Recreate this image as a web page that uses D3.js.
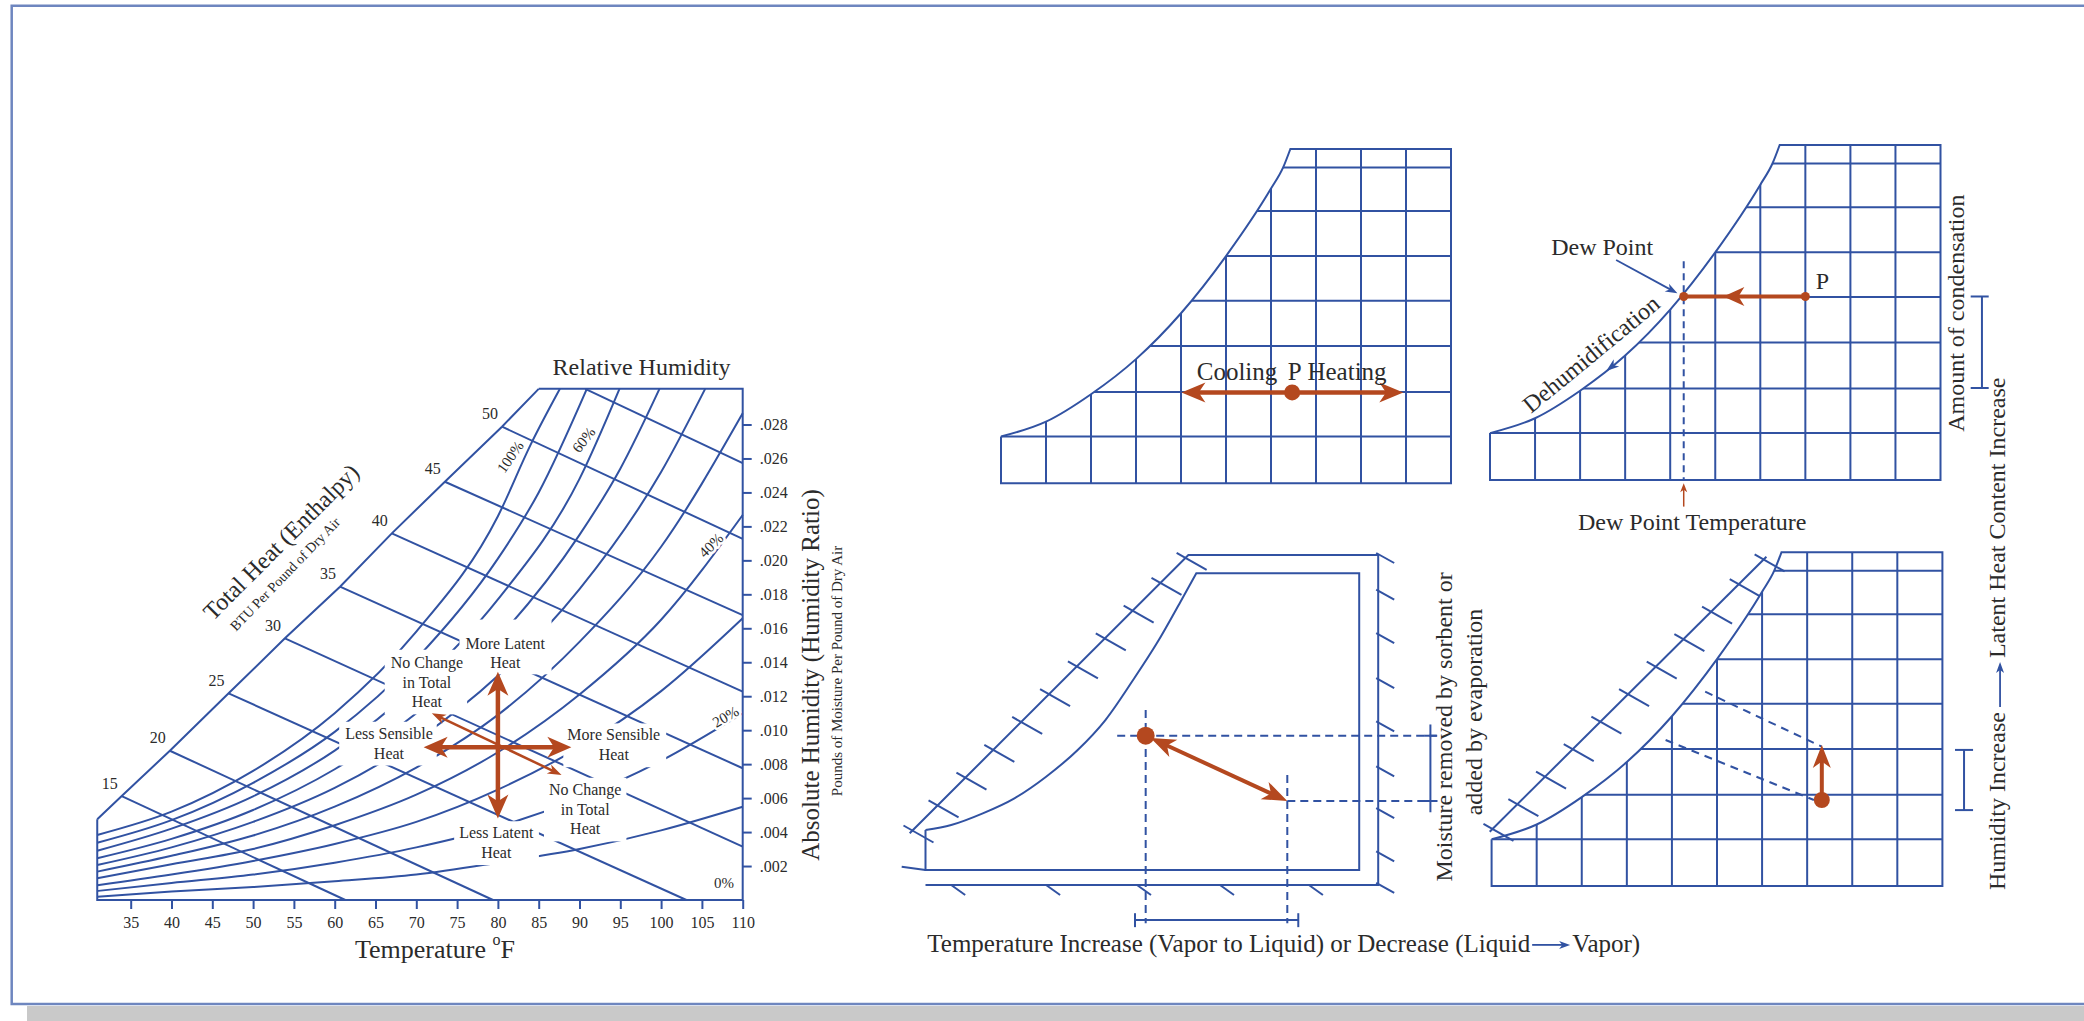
<!DOCTYPE html>
<html>
<head>
<meta charset="utf-8">
<title>Psychrometric Processes</title>
<script src="https://d3js.org/d3.v7.min.js"></script>
<style>
  body { margin: 0; background: #fff; }
  svg { display: block; }
  text { font-family: 'Liberation Serif', 'Times New Roman', serif; fill: #2b2b2b; }
  .halo { paint-order: stroke; stroke: #fff; stroke-width: 5px; stroke-linejoin: round; }
</style>
</head>
<body>
<div id="chart"></div>
<script>
// ---------- psychrometric chart (left) ----------
const tempTicks = [35, 40, 45, 50, 55, 60, 65, 70, 75, 80, 85, 90, 95, 100, 105, 110];
const humidityTicks = [0.002, 0.004, 0.006, 0.008, 0.010, 0.012, 0.014, 0.016, 0.018, 0.020, 0.022, 0.024, 0.026, 0.028];
const tempMin = 30.9;
const humidityTop = 0.0301;

// outer edge carrying the enthalpy scale (temperature F, humidity ratio)
const enthalpyEdge = [[30.9, 0.00475], [33.9, 0.00612], [39.8, 0.00879], [47.0, 0.01217], [53.9, 0.01541],
  [60.65, 0.01845], [67.0, 0.02159], [73.5, 0.02463], [80.5, 0.02787], [85.0, 0.0301]];

const enthalpyLines = [
  { h: 15, from: [33.9, 0.00612], to: [61.3, 0] },
  { h: 20, from: [39.8, 0.00879], to: [79.4, 0] },
  { h: 25, from: [47.0, 0.01217], to: [103.1, 0] },
  { h: 30, from: [53.9, 0.01541], to: [110, 0.00314] },
  { h: 35, from: [60.65, 0.01845], to: [110, 0.00776] },
  { h: 40, from: [67.0, 0.02159], to: [110, 0.01227] },
  { h: 45, from: [73.5, 0.02463], to: [110, 0.01678] },
  { h: 50, from: [80.5, 0.02787], to: [110, 0.02126] },
  { h: 55, from: [90.7, 0.0301], to: [110, 0.02572] }
];

const rhCurves = [
  { rh: 100, pts: [[30.9, .00383], [40, .0052], [50, .0076], [60, .0110], [70, .0158], [80, .0226], [84, .0268], [87.6, .0301]] },
  { rh: 90, pts: [[30.9, .00337], [40, .0047], [50, .0069], [60, .0099], [70, .0142], [80, .0201], [85, .0240], [90.9, .0301]] },
  { rh: 80, pts: [[30.9, .0029], [40, .0042], [50, .0061], [60, .0088], [70, .0126], [80, .0177], [90, .0248], [94.9, .0301]] },
  { rh: 70, pts: [[30.9, .00246], [40, .0036], [50, .0053], [60, .0077], [70, .0110], [80, .0154], [90, .0215], [95, .0254], [99.8, .0301]] },
  { rh: 60, pts: [[30.9, .00206], [40, .0031], [50, .0046], [60, .0066], [70, .0094], [80, .0132], [90, .0183], [100, .0252], [105.4, .0301]] },
  { rh: 50, pts: [[30.9, .00167], [40, .0026], [50, .0038], [60, .0055], [70, .0078], [80, .0109], [90, .0152], [100, .0208], [110, .02866]] },
  { rh: 40, pts: [[30.9, .00128], [40, .0021], [50, .0030], [60, .0044], [70, .0062], [80, .0087], [90, .0121], [100, .0165], [110, .02267]] },
  { rh: 30, pts: [[30.9, .00087], [40, .0015], [50, .0023], [60, .0033], [70, .0046], [80, .0065], [90, .0090], [100, .0123], [110, .01659]] },
  { rh: 20, pts: [[30.9, .00053], [40, .0010], [50, .0015], [60, .0022], [70, .0031], [80, .0043], [90, .0060], [100, .0082], [110, .01099]] },
  { rh: 10, pts: [[30.9, .00019], [40, .0005], [50, .00076], [60, .0011], [70, .0015], [80, .0022], [90, .0030], [100, .0041], [110, .00549]] }
];

const rhLabels = [
  { text: '100%', at: [81.5, 0.0261], angle: -55 },
  { text: '60%', at: [90.5, 0.0271], angle: -52 },
  { text: '40%', at: [106.1, 0.0209], angle: -45 },
  { text: '20%', at: [107.9, 0.0108], angle: -30 },
  { text: '0%', at: [107.7, 0.0010], angle: 0 }
];

// text blocks on the chart, with how far their white backing reaches (top, right, bottom, left)
const effectLabels = [
  { lines: ['More Latent', 'Heat'], at: [80.9, 0.01513], pad: [15, 6, 3, 6] },
  { lines: ['No Change', 'in Total', 'Heat'], at: [71.3, 0.0140], pad: [4, 4, 4, 6] },
  { lines: ['Less Sensible', 'Heat'], at: [66.65, 0.00982], pad: [3, 4, 4, 6] },
  { lines: ['More Sensible', 'Heat'], at: [94.2, 0.00972], pad: [3, 6, 4, 4] },
  { lines: ['No Change', 'in Total', 'Heat'], at: [90.7, 0.00652], pad: [3, 5, 4, 5] },
  { lines: ['Less Latent', 'Heat'], at: [79.8, 0.00396], pad: [3, 5, 4, 5] }
];

const processPoint = [80, 0.009];
const sensibleRange = [70.9, 89.0];
const latentRange = [0.0048, 0.01344];
const totalHeatPath = [[71.9, 0.0110], [87.8, 0.00736]];

// ---------- process sketches (grid units) ----------
const satCurve = [[0, 1.04], [1, 1.37], [2, 1.98], [3, 2.76], [4, 3.78], [5, 5.05], [6, 6.55], [6.27, 7.02], [6.43, 7.43]];
const gridCols = [1, 2, 3, 4, 5, 6, 7, 8, 9];
const gridRows = [1.04, 2.03, 3.05, 4.06, 5.05, 6.05, 7.02];
const gridTop = 7.43;

const heatRow = 2.02, heatSpan = [4.01, 8.94], heatPoint = 6.47;
const coolStart = [7.0, 4.07], dewPoint = [4.3, 4.07], coolHead = 5.18;

const sorbentOuter = [[-0.351, 0.816], [5.842, 7.0], [10.06, 7.0], [10.06, -0.333], [0, -0.333]];
const sorbentInner = [[0, 0.889], [0.571, 1.0], [1.273, 1.259], [1.976, 1.593], [2.68, 2.074], [3.382, 2.667],
  [3.998, 3.333], [4.613, 4.222], [5.14, 5.037], [5.667, 5.963], [6.018, 6.593]];
const sorbentBox = { right: 9.638, top: 6.593 };
const sorbentStart = [4.893, 2.984], sorbentEnd = [8.04, 1.533];
const hatchSteps = [0.01, 0.1, 0.2, 0.3, 0.4, 0.5, 0.6, 0.7, 0.8, 0.9, 0.99];
const sideHatchRows = [7.0, 6.185, 5.222, 4.222, 3.259, 2.259, 1.333, 0.370, -0.333];
const baseHatchCols = [0.571, 2.68, 4.7, 6.544, 8.52];

const evapEdge = [[-0.042, 1.209], [6.096, 7.332]];
const evapStart = [7.325, 1.915], evapEnd = [7.325, 3.14];
const evapGuides = [[[4.738, 4.326], [7.325, 3.102]], [[3.86, 3.251], [7.15, 1.915]]];

const BLUE = '#3152a2', RUST = '#b4481f', FRAME = '#6e86bf';

const svg = d3.select('#chart').append('svg').attr('width', 2084).attr('height', 1021);

// page frame
svg.append('rect').attr('x', 27).attr('y', 1006).attr('width', 2084 - 27).attr('height', 15).attr('fill', '#c9c9c9');
svg.append('path').attr('d', 'M2084,5.7H11.7V1004H2084').attr('fill', 'none').attr('stroke', FRAME).attr('stroke-width', 2.5);

function arrowHead(g, tip, ang, len, wid, color) {
  const c = Math.cos(ang), s = Math.sin(ang);
  const bx = tip[0] - c * len, by = tip[1] - s * len;
  const nx = -s * wid / 2, ny = c * wid / 2;
  const mx = tip[0] - c * len * 0.72, my = tip[1] - s * len * 0.72;
  g.append('path')
    .attr('d', `M${tip[0]},${tip[1]}L${bx + nx},${by + ny}L${mx},${my}L${bx - nx},${by - ny}Z`)
    .attr('fill', color);
}

function arrowLine(g, a, b, o) {
  const ang = Math.atan2(b[1] - a[1], b[0] - a[0]);
  const c = Math.cos(ang), s = Math.sin(ang);
  const cutB = o.len * 0.6, cutA = o.both ? o.len * 0.6 : 0;
  g.append('line')
    .attr('x1', a[0] + c * cutA).attr('y1', a[1] + s * cutA)
    .attr('x2', b[0] - c * cutB).attr('y2', b[1] - s * cutB)
    .attr('stroke', o.color).attr('stroke-width', o.width);
  arrowHead(g, b, ang, o.len, o.wid, o.color);
  if (o.both) arrowHead(g, a, ang + Math.PI, o.len, o.wid, o.color);
}

// ---------- left chart ----------
const x = d3.scaleLinear().domain([35, 110]).range([130.7, 742.7]);
const y = d3.scaleLinear().domain([0, 0.028]).range([900, 424.5]);
const straight = d3.line().x(d => x(d[0])).y(d => y(d[1]));
const smooth = d3.line().x(d => x(d[0])).y(d => y(d[1])).curve(d3.curveMonotoneX);

const psy = svg.append('g');
const net = psy.append('g').attr('fill', 'none').attr('stroke', BLUE).attr('stroke-width', 2);
net.selectAll('path.rh').data(rhCurves).join('path').attr('class', 'rh').attr('d', d => smooth(d.pts));
net.selectAll('path.h').data(enthalpyLines).join('path').attr('class', 'h').attr('d', d => straight([d.from, d.to]));
net.append('path').attr('d', straight(enthalpyEdge));
net.append('path').attr('d', straight([[tempMin, enthalpyEdge[0][1]], [tempMin, 0], [110, 0], [110, humidityTop], [85, humidityTop]]));

const xAxis = psy.append('g').attr('transform', `translate(0,${y(0)})`)
  .call(d3.axisBottom(x).tickValues(tempTicks).tickSize(9).tickPadding(8));
const yAxis = psy.append('g').attr('transform', `translate(${x(110)},0)`)
  .call(d3.axisRight(y).tickValues(humidityTicks).tickSize(9).tickPadding(8)
    .tickFormat(d => d3.format('.3f')(d).replace(/^0/, '')));
[xAxis, yAxis].forEach(a => {
  a.select('.domain').remove();
  a.selectAll('line').attr('stroke', BLUE).attr('stroke-width', 2);
  a.selectAll('text').attr('font-size', 16).attr('font-family', "'Liberation Serif', serif").attr('fill', '#333');
});

psy.selectAll('text.hval').data(enthalpyLines.filter(d => d.h <= 50)).join('text').attr('class', 'hval')
  .attr('x', d => x(d.from[0]) - 12).attr('y', d => y(d.from[1]) - 13).attr('dy', '0.35em')
  .attr('text-anchor', 'middle').attr('font-size', 16).text(d => d.h);

psy.selectAll('text.rhl').data(rhLabels).join('text').attr('class', 'rhl halo')
  .attr('transform', d => `translate(${x(d.at[0])},${y(d.at[1])}) rotate(${d.angle})`)
  .attr('dy', '0.35em').attr('text-anchor', 'middle').attr('font-size', 15).text(d => d.text);

const fx = psy.append('g');
effectLabels.forEach(d => {
  const cx = x(d.at[0]), cy = y(d.at[1]);
  const t = fx.append('text').attr('text-anchor', 'middle').attr('font-size', 16);
  d.lines.forEach((s, i) => t.append('tspan').attr('x', cx).attr('y', cy + 5.5 + i * 19.8).text(s));
  const b = t.node().getBBox();
  const [pt, pr, pb, pl] = d.pad;
  fx.insert('rect', 'text').attr('x', b.x - pl).attr('y', b.y - pt)
    .attr('width', b.width + pl + pr).attr('height', b.height + pt + pb).attr('fill', '#fff');
});

const ar = psy.append('g');
arrowLine(ar, [x(totalHeatPath[0][0]), y(totalHeatPath[0][1])], [x(totalHeatPath[1][0]), y(totalHeatPath[1][1])],
  { color: RUST, width: 2.5, len: 14, wid: 10, both: true });
const bold = { color: RUST, width: 4.5, len: 24, wid: 21, both: true };
arrowLine(ar, [x(sensibleRange[0]), y(processPoint[1])], [x(sensibleRange[1]), y(processPoint[1])], bold);
arrowLine(ar, [x(processPoint[0]), y(latentRange[0])], [x(processPoint[0]), y(latentRange[1])], bold);

psy.append('text').attr('x', 641.6).attr('y', 375).attr('text-anchor', 'middle').attr('font-size', 24).text('Relative Humidity');
psy.append('text').attr('transform', 'translate(280.8,541.7) rotate(-45)').attr('dy', '0.35em')
  .attr('text-anchor', 'middle').attr('font-size', 24).text('Total Heat (Enthalpy)');
psy.append('text').attr('transform', 'translate(285,574) rotate(-46)').attr('dy', '0.35em')
  .attr('text-anchor', 'middle').attr('font-size', 14).text('BTU Per Pound of Dry Air');
psy.append('text').attr('transform', 'translate(819,675) rotate(-90)').attr('text-anchor', 'middle')
  .attr('font-size', 25).text('Absolute Humidity (Humidity Ratio)');
psy.append('text').attr('transform', 'translate(842,671) rotate(-90)').attr('text-anchor', 'middle')
  .attr('font-size', 15).text('Pounds of Moisture Per Pound of Dry Air');
const tt = psy.append('text').attr('x', 355).attr('y', 958).attr('font-size', 26);
tt.append('tspan').text('Temperature ');
tt.append('tspan').attr('font-size', 16).attr('dy', -13).text('o');
tt.append('tspan').attr('dy', 13).text('F');

// ---------- grid sketches ----------
function gridPanel(range, id) {
  const px = d3.scaleLinear().domain([0, 10]).range(range.x);
  const py = d3.scaleLinear().domain([0, gridTop]).range(range.y);
  const g = svg.append('g');
  const cd = d3.line().x(d => px(d[0])).y(d => py(d[1])).curve(d3.curveMonotoneX)(satCurve);
  g.append('clipPath').attr('id', id).append('path')
    .attr('d', cd + `L${px(10)},${py(gridTop)}L${px(10)},${py(0)}L${px(0)},${py(0)}Z`);
  const grid = g.append('g').attr('clip-path', `url(#${id})`).attr('stroke', BLUE).attr('stroke-width', 2);
  grid.selectAll('line.v').data(gridCols).join('line').attr('class', 'v')
    .attr('x1', d => px(d)).attr('x2', d => px(d)).attr('y1', py(0)).attr('y2', py(gridTop));
  grid.selectAll('line.r').data(gridRows).join('line').attr('class', 'r')
    .attr('x1', px(0)).attr('x2', px(10)).attr('y1', d => py(d)).attr('y2', d => py(d));
  g.append('path')
    .attr('d', cd + `L${px(10)},${py(gridTop)}L${px(10)},${py(0)}L${px(0)},${py(0)}L${px(0)},${py(satCurve[0][1])}`)
    .attr('fill', 'none').attr('stroke', BLUE).attr('stroke-width', 2);
  return { g, px, py };
}

// A: sensible heating / cooling
const A = gridPanel({ x: [1001, 1451], y: [483.3, 149] }, 'clipA');
arrowLine(A.g, [A.px(heatSpan[0]), A.py(heatRow)], [A.px(heatSpan[1]), A.py(heatRow)],
  { color: RUST, width: 4.5, len: 24, wid: 20, both: true });
A.g.append('circle').attr('cx', A.px(heatPoint)).attr('cy', A.py(heatRow)).attr('r', 8).attr('fill', RUST);
A.g.append('text').attr('x', A.px(4.35)).attr('y', A.py(2.30)).attr('font-size', 25).text('Cooling');
A.g.append('text').attr('x', A.px(6.37)).attr('y', A.py(2.30)).attr('font-size', 25).text('P');
A.g.append('text').attr('x', A.px(6.81)).attr('y', A.py(2.30)).attr('font-size', 25).text('Heating');

// B: cooling to dew point
const B = gridPanel({ x: [1490, 1940.5], y: [480, 145] }, 'clipB');
B.g.append('line').attr('x1', B.px(dewPoint[0])).attr('x2', B.px(dewPoint[0])).attr('y1', B.py(4.85)).attr('y2', B.py(0))
  .attr('stroke', BLUE).attr('stroke-width', 2).attr('stroke-dasharray', '7,5');
B.g.append('line').attr('x1', B.px(coolStart[0])).attr('y1', B.py(coolStart[1]))
  .attr('x2', B.px(dewPoint[0])).attr('y2', B.py(dewPoint[1])).attr('stroke', RUST).attr('stroke-width', 4);
arrowHead(B.g, [B.px(coolHead), B.py(coolStart[1])], Math.PI, 21, 19, RUST);
[coolStart, dewPoint].forEach(p => B.g.append('circle').attr('cx', B.px(p[0])).attr('cy', B.py(p[1])).attr('r', 4.5).attr('fill', RUST));
B.g.append('text').attr('x', B.px(7.23)).attr('y', B.py(4.23)).attr('font-size', 24).text('P');
B.g.append('text').attr('x', B.px(2.49)).attr('y', B.py(4.99)).attr('text-anchor', 'middle').attr('font-size', 24).text('Dew Point');
arrowLine(B.g, [B.px(2.8), B.py(4.88)], [B.px(4.16), B.py(4.14)], { color: BLUE, width: 1.8, len: 12, wid: 9 });
B.g.append('text').attr('transform', `translate(${B.px(2.24)},${B.py(2.80)}) rotate(-39.5)`).attr('dy', '0.35em')
  .attr('text-anchor', 'middle').attr('font-size', 24).text('Dehumidification');
arrowHead(B.g, [B.px(2.58), B.py(2.42)], Math.PI - 0.66, 13, 9, BLUE);
arrowLine(B.g, [B.px(dewPoint[0]), B.py(-0.59)], [B.px(dewPoint[0]), B.py(-0.07)], { color: RUST, width: 1.5, len: 9, wid: 7 });
B.g.append('text').attr('x', B.px(4.49)).attr('y', B.py(-1.11)).attr('text-anchor', 'middle').attr('font-size', 24).text('Dew Point Temperature');
B.g.append('text').attr('transform', `translate(${B.px(10.52)},${B.py(3.70)}) rotate(-90)`)
  .attr('text-anchor', 'middle').attr('font-size', 24).text('Amount of condensation');
const ib = B.g.append('g').attr('stroke', BLUE).attr('stroke-width', 2);
ib.append('line').attr('x1', B.px(10.92)).attr('x2', B.px(10.92)).attr('y1', B.py(2.04)).attr('y2', B.py(4.07));
[2.04, 4.07].forEach(v => ib.append('line').attr('x1', B.px(10.67)).attr('x2', B.px(11.07)).attr('y1', B.py(v)).attr('y2', B.py(v)));

// D: humidification
const D = gridPanel({ x: [1491.6, 1942.4], y: [886, 552.3] }, 'clipD');
D.g.append('line').attr('x1', D.px(evapEdge[0][0])).attr('y1', D.py(evapEdge[0][1]))
  .attr('x2', D.px(evapEdge[1][0])).attr('y2', D.py(evapEdge[1][1])).attr('stroke', BLUE).attr('stroke-width', 2);
hatchSteps.forEach(t => {
  const hx = D.px(evapEdge[0][0] + t * (evapEdge[1][0] - evapEdge[0][0]));
  const hy = D.py(evapEdge[0][1] + t * (evapEdge[1][1] - evapEdge[0][1]));
  D.g.append('line').attr('x1', hx - 9).attr('y1', hy - 5).attr('x2', hx + 21).attr('y2', hy + 12)
    .attr('stroke', BLUE).attr('stroke-width', 2);
});
evapGuides.forEach(s => D.g.append('line').attr('x1', D.px(s[0][0])).attr('y1', D.py(s[0][1]))
  .attr('x2', D.px(s[1][0])).attr('y2', D.py(s[1][1])).attr('stroke', BLUE).attr('stroke-width', 2).attr('stroke-dasharray', '8,6'));
D.g.append('line').attr('x1', D.px(evapStart[0])).attr('x2', D.px(evapEnd[0]))
  .attr('y1', D.py(evapStart[1])).attr('y2', D.py(evapEnd[1]) + 14).attr('stroke', RUST).attr('stroke-width', 4);
arrowHead(D.g, [D.px(evapEnd[0]), D.py(evapEnd[1])], -Math.PI / 2, 23, 18, RUST);
D.g.append('circle').attr('cx', D.px(evapStart[0])).attr('cy', D.py(evapStart[1])).attr('r', 8).attr('fill', RUST);
const ibd = D.g.append('g').attr('stroke', BLUE).attr('stroke-width', 2);
ibd.append('line').attr('x1', D.px(10.48)).attr('x2', D.px(10.48)).attr('y1', D.py(1.69)).attr('y2', D.py(3.03));
[1.69, 3.03].forEach(v => ibd.append('line').attr('x1', D.px(10.28)).attr('x2', D.px(10.68)).attr('y1', D.py(v)).attr('y2', D.py(v)));

// vertical caption spanning B and D
const capX = D.px(11.39), capY0 = D.py(-0.09);
const cap1 = D.g.append('text').attr('transform', `translate(${capX},${capY0}) rotate(-90)`)
  .attr('font-size', 24).text('Humidity Increase');
const l1 = cap1.node().getComputedTextLength();
arrowLine(D.g, [capX - 5, capY0 - l1 - 5], [capX - 5, capY0 - l1 - 50], { color: BLUE, width: 1.8, len: 11, wid: 8 });
D.g.append('text').attr('transform', `translate(${capX},${capY0 - l1 - 54}) rotate(-90)`)
  .attr('font-size', 24).text('Latent Heat Content Increase');

// C: sorbent / evaporation
const cx = d3.scaleLinear().domain([0, 10]).range([925.5, 1375.5]);
const cy = d3.scaleLinear().domain([0, 10]).range([870, 420]);
const C = svg.append('g');
const cLine = d3.line().x(d => cx(d[0])).y(d => cy(d[1]));
C.append('path').attr('d', cLine(sorbentOuter)).attr('fill', 'none').attr('stroke', BLUE).attr('stroke-width', 2);
const innerD = d3.line().x(d => cx(d[0])).y(d => cy(d[1])).curve(d3.curveMonotoneX)(sorbentInner);
C.append('path')
  .attr('d', innerD + `L${cx(sorbentBox.right)},${cy(sorbentBox.top)}L${cx(sorbentBox.right)},${cy(0)}L${cx(0)},${cy(0)}L${cx(0)},${cy(sorbentInner[0][1])}`)
  .attr('fill', 'none').attr('stroke', BLUE).attr('stroke-width', 2);
C.append('line').attr('x1', cx(-0.529)).attr('y1', cy(0.073)).attr('x2', cx(0)).attr('y2', cy(0)).attr('stroke', BLUE).attr('stroke-width', 2);
const hat = C.append('g').attr('stroke', BLUE).attr('stroke-width', 2);
const e0 = sorbentOuter[0], e1 = sorbentOuter[1];
hatchSteps.forEach(t => {
  const hx = cx(e0[0] + t * (e1[0] - e0[0])), hy = cy(e0[1] + t * (e1[1] - e0[1]));
  hat.append('line').attr('x1', hx - 9).attr('y1', hy - 5).attr('x2', hx + 21).attr('y2', hy + 12);
});
sideHatchRows.forEach(v => hat.append('line').attr('x1', cx(10.06) - 2).attr('y1', cy(v) - 2).attr('x2', cx(10.06) + 16).attr('y2', cy(v) + 8));
baseHatchCols.forEach(v => hat.append('line').attr('x1', cx(v)).attr('y1', cy(-0.333)).attr('x2', cx(v) + 14).attr('y2', cy(-0.333) + 10));
const dash = C.append('g').attr('stroke', BLUE).attr('stroke-width', 2).attr('stroke-dasharray', '8,5');
dash.append('line').attr('x1', cx(sorbentStart[0])).attr('x2', cx(sorbentStart[0])).attr('y1', cy(3.556)).attr('y2', cy(-1.184));
dash.append('line').attr('x1', cx(sorbentEnd[0])).attr('x2', cx(sorbentEnd[0])).attr('y1', cy(2.111)).attr('y2', cy(-1.184));
dash.append('line').attr('x1', cx(4.26)).attr('x2', cx(11.378)).attr('y1', cy(sorbentStart[1])).attr('y2', cy(sorbentStart[1]));
dash.append('line').attr('x1', cx(sorbentEnd[0])).attr('x2', cx(11.378)).attr('y1', cy(sorbentEnd[1])).attr('y2', cy(sorbentEnd[1]));
const br = C.append('g').attr('stroke', BLUE).attr('stroke-width', 2);
br.append('line').attr('x1', cx(11.22)).attr('x2', cx(11.22)).attr('y1', cy(sorbentStart[1] + 0.25)).attr('y2', cy(sorbentEnd[1] - 0.25));
[sorbentStart[1], sorbentEnd[1]].forEach(v => br.append('line').attr('x1', cx(11.08)).attr('x2', cx(11.36)).attr('y1', cy(v)).attr('y2', cy(v)));
br.append('line').attr('x1', cx(4.656)).attr('x2', cx(8.284)).attr('y1', cy(-1.111)).attr('y2', cy(-1.111));
[4.656, 8.284].forEach(v => br.append('line').attr('x1', cx(v)).attr('x2', cx(v)).attr('y1', cy(-0.96)).attr('y2', cy(-1.27)));
C.append('circle').attr('cx', cx(sorbentStart[0])).attr('cy', cy(sorbentStart[1])).attr('r', 9).attr('fill', RUST);
{
  const a = [cx(sorbentStart[0]), cy(sorbentStart[1])], b = [cx(sorbentEnd[0]), cy(sorbentEnd[1])];
  const a2 = [a[0] + (b[0] - a[0]) * 0.035, a[1] + (b[1] - a[1]) * 0.035];
  arrowLine(C, a2, b, { color: RUST, width: 4, len: 25, wid: 19, both: true });
}
C.append('text').attr('transform', `translate(${cx(11.70)},${cy(3.18)}) rotate(-90)`)
  .attr('text-anchor', 'middle').attr('font-size', 24).text('Moisture removed by sorbent or');
C.append('text').attr('transform', `translate(${cx(12.36)},${cy(3.51)}) rotate(-90)`)
  .attr('text-anchor', 'middle').attr('font-size', 24).text('added by evaporation');
const bt = C.append('text').attr('x', cx(0.04)).attr('y', cy(-1.82)).attr('font-size', 25)
  .text('Temperature Increase (Vapor to Liquid) or Decrease (Liquid');
const bl = bt.node().getComputedTextLength();
const ax0 = cx(0.04) + bl + 2;
arrowLine(C, [ax0, cy(-1.82) - 7], [ax0 + 38, cy(-1.82) - 7], { color: BLUE, width: 1.8, len: 11, wid: 8 });
C.append('text').attr('x', ax0 + 40).attr('y', cy(-1.82)).attr('font-size', 25).text('Vapor)');
</script>
</body>
</html>
